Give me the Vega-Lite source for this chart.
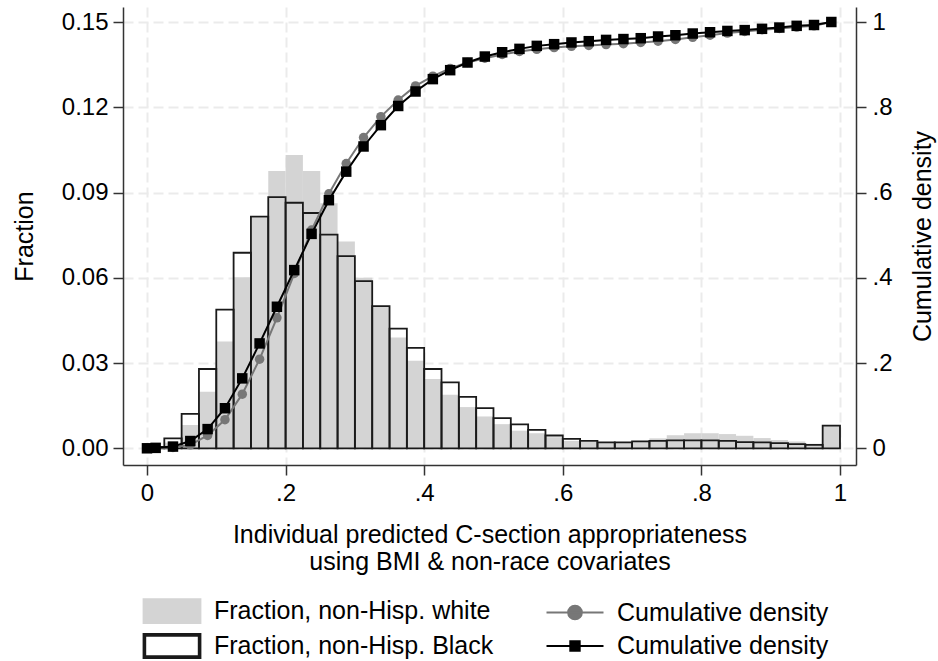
{
  "$schema": "https://vega.github.io/schema/vega-lite/v6.json",
  "description": "Fraction histograms and cumulative densities of predicted C-section appropriateness",
  "width": 733,
  "height": 458,
  "autosize": {"type": "none"},
  "padding": {"left": 123, "top": 7, "right": 82, "bottom": 196},
  "background": "white",
  "config": {
    "view": {"stroke": null},
    "font": "Liberation Sans",
    "axis": {
      "labelFont": "Liberation Sans",
      "titleFont": "Liberation Sans",
      "labelFontSize": 24,
      "titleFontSize": 25,
      "titleFontWeight": "normal",
      "labelColor": "black",
      "titleColor": "black",
      "domainColor": "#333333",
      "domainWidth": 1.5,
      "tickColor": "#333333",
      "tickWidth": 1.5,
      "tickSize": 10,
      "gridColor": "#ebebeb",
      "gridDash": [10, 5],
      "gridWidth": 2
    }
  },
  "datasets": {
    "white_bars": [
      {"lo": 0, "hi": 0.025, "f": 0.0005},
      {"lo": 0.025, "hi": 0.05, "f": 0.002},
      {"lo": 0.05, "hi": 0.075, "f": 0.0082},
      {"lo": 0.075, "hi": 0.1, "f": 0.0199},
      {"lo": 0.1, "hi": 0.125, "f": 0.0376},
      {"lo": 0.125, "hi": 0.15, "f": 0.0602},
      {"lo": 0.15, "hi": 0.175, "f": 0.0812},
      {"lo": 0.175, "hi": 0.2, "f": 0.0976},
      {"lo": 0.2, "hi": 0.225, "f": 0.1032},
      {"lo": 0.225, "hi": 0.25, "f": 0.0976},
      {"lo": 0.25, "hi": 0.275, "f": 0.0862},
      {"lo": 0.275, "hi": 0.3, "f": 0.0728},
      {"lo": 0.3, "hi": 0.325, "f": 0.06},
      {"lo": 0.325, "hi": 0.35, "f": 0.05},
      {"lo": 0.35, "hi": 0.375, "f": 0.039},
      {"lo": 0.375, "hi": 0.4, "f": 0.0308},
      {"lo": 0.4, "hi": 0.425, "f": 0.0244},
      {"lo": 0.425, "hi": 0.45, "f": 0.0188},
      {"lo": 0.45, "hi": 0.475, "f": 0.0145},
      {"lo": 0.475, "hi": 0.5, "f": 0.0112},
      {"lo": 0.5, "hi": 0.525, "f": 0.0085},
      {"lo": 0.525, "hi": 0.55, "f": 0.0062},
      {"lo": 0.55, "hi": 0.575, "f": 0.0053},
      {"lo": 0.575, "hi": 0.6, "f": 0.0039},
      {"lo": 0.6, "hi": 0.625, "f": 0.0026},
      {"lo": 0.625, "hi": 0.65, "f": 0.0022},
      {"lo": 0.65, "hi": 0.675, "f": 0.002},
      {"lo": 0.675, "hi": 0.7, "f": 0.0021},
      {"lo": 0.7, "hi": 0.725, "f": 0.0025},
      {"lo": 0.725, "hi": 0.75, "f": 0.0035},
      {"lo": 0.75, "hi": 0.775, "f": 0.0046},
      {"lo": 0.775, "hi": 0.8, "f": 0.0053},
      {"lo": 0.8, "hi": 0.825, "f": 0.0053},
      {"lo": 0.825, "hi": 0.85, "f": 0.005},
      {"lo": 0.85, "hi": 0.875, "f": 0.0044},
      {"lo": 0.875, "hi": 0.9, "f": 0.0036},
      {"lo": 0.9, "hi": 0.925, "f": 0.0029},
      {"lo": 0.925, "hi": 0.95, "f": 0.0024},
      {"lo": 0.95, "hi": 0.975, "f": 0.0016},
      {"lo": 0.975, "hi": 1, "f": 0.008}
    ],
    "black_bars": [
      {"lo": 0, "hi": 0.025, "f": 0.0005},
      {"lo": 0.025, "hi": 0.05, "f": 0.0035},
      {"lo": 0.05, "hi": 0.075, "f": 0.0121},
      {"lo": 0.075, "hi": 0.1, "f": 0.0279},
      {"lo": 0.1, "hi": 0.125, "f": 0.0488},
      {"lo": 0.125, "hi": 0.15, "f": 0.0688},
      {"lo": 0.15, "hi": 0.175, "f": 0.0815},
      {"lo": 0.175, "hi": 0.2, "f": 0.0884},
      {"lo": 0.2, "hi": 0.225, "f": 0.0864},
      {"lo": 0.225, "hi": 0.25, "f": 0.0828},
      {"lo": 0.25, "hi": 0.275, "f": 0.0752},
      {"lo": 0.275, "hi": 0.3, "f": 0.0676},
      {"lo": 0.3, "hi": 0.325, "f": 0.0588},
      {"lo": 0.325, "hi": 0.35, "f": 0.05},
      {"lo": 0.35, "hi": 0.375, "f": 0.0421},
      {"lo": 0.375, "hi": 0.4, "f": 0.0353},
      {"lo": 0.4, "hi": 0.425, "f": 0.0279},
      {"lo": 0.425, "hi": 0.45, "f": 0.0232},
      {"lo": 0.45, "hi": 0.475, "f": 0.0181},
      {"lo": 0.475, "hi": 0.5, "f": 0.0141},
      {"lo": 0.5, "hi": 0.525, "f": 0.0106},
      {"lo": 0.525, "hi": 0.55, "f": 0.0084},
      {"lo": 0.55, "hi": 0.575, "f": 0.0065},
      {"lo": 0.575, "hi": 0.6, "f": 0.0045},
      {"lo": 0.6, "hi": 0.625, "f": 0.0033},
      {"lo": 0.625, "hi": 0.65, "f": 0.0026},
      {"lo": 0.65, "hi": 0.675, "f": 0.0021},
      {"lo": 0.675, "hi": 0.7, "f": 0.0021},
      {"lo": 0.7, "hi": 0.725, "f": 0.0024},
      {"lo": 0.725, "hi": 0.75, "f": 0.0026},
      {"lo": 0.75, "hi": 0.775, "f": 0.0028},
      {"lo": 0.775, "hi": 0.8, "f": 0.0028},
      {"lo": 0.8, "hi": 0.825, "f": 0.0028},
      {"lo": 0.825, "hi": 0.85, "f": 0.0026},
      {"lo": 0.85, "hi": 0.875, "f": 0.0022},
      {"lo": 0.875, "hi": 0.9, "f": 0.0021},
      {"lo": 0.9, "hi": 0.925, "f": 0.0018},
      {"lo": 0.925, "hi": 0.95, "f": 0.0015},
      {"lo": 0.95, "hi": 0.975, "f": 0.0012},
      {"lo": 0.975, "hi": 1, "f": 0.008}
    ],
    "white_cum": [
      {"x": 0, "c": 0},
      {"x": 0.0125, "c": 0.0005},
      {"x": 0.0375, "c": 0.002},
      {"x": 0.0625, "c": 0.008},
      {"x": 0.0875, "c": 0.03},
      {"x": 0.1125, "c": 0.067},
      {"x": 0.1375, "c": 0.127},
      {"x": 0.1625, "c": 0.209},
      {"x": 0.1875, "c": 0.306},
      {"x": 0.2125, "c": 0.41},
      {"x": 0.2375, "c": 0.512},
      {"x": 0.2625, "c": 0.597},
      {"x": 0.2875, "c": 0.668},
      {"x": 0.3125, "c": 0.729},
      {"x": 0.3375, "c": 0.778},
      {"x": 0.3625, "c": 0.817},
      {"x": 0.3875, "c": 0.85},
      {"x": 0.4125, "c": 0.873},
      {"x": 0.4375, "c": 0.891},
      {"x": 0.4625, "c": 0.905},
      {"x": 0.4875, "c": 0.915},
      {"x": 0.5125, "c": 0.924},
      {"x": 0.5375, "c": 0.931},
      {"x": 0.5625, "c": 0.936},
      {"x": 0.5875, "c": 0.94},
      {"x": 0.6125, "c": 0.943},
      {"x": 0.6375, "c": 0.945},
      {"x": 0.6625, "c": 0.947},
      {"x": 0.6875, "c": 0.949},
      {"x": 0.7125, "c": 0.952},
      {"x": 0.7375, "c": 0.955},
      {"x": 0.7625, "c": 0.959},
      {"x": 0.7875, "c": 0.964},
      {"x": 0.8125, "c": 0.969},
      {"x": 0.8375, "c": 0.974},
      {"x": 0.8625, "c": 0.978},
      {"x": 0.8875, "c": 0.982},
      {"x": 0.9125, "c": 0.985},
      {"x": 0.9375, "c": 0.988},
      {"x": 0.9625, "c": 0.991},
      {"x": 0.9875, "c": 1.0}
    ],
    "black_cum": [
      {"x": 0, "c": 0},
      {"x": 0.0125, "c": 0.001},
      {"x": 0.0375, "c": 0.004},
      {"x": 0.0625, "c": 0.017},
      {"x": 0.0875, "c": 0.045},
      {"x": 0.1125, "c": 0.094},
      {"x": 0.1375, "c": 0.164},
      {"x": 0.1625, "c": 0.246},
      {"x": 0.1875, "c": 0.332},
      {"x": 0.2125, "c": 0.418},
      {"x": 0.2375, "c": 0.503},
      {"x": 0.2625, "c": 0.582},
      {"x": 0.2875, "c": 0.649},
      {"x": 0.3125, "c": 0.708},
      {"x": 0.3375, "c": 0.758},
      {"x": 0.3625, "c": 0.803},
      {"x": 0.3875, "c": 0.837},
      {"x": 0.4125, "c": 0.866},
      {"x": 0.4375, "c": 0.887},
      {"x": 0.4625, "c": 0.905},
      {"x": 0.4875, "c": 0.919},
      {"x": 0.5125, "c": 0.929},
      {"x": 0.5375, "c": 0.937},
      {"x": 0.5625, "c": 0.944},
      {"x": 0.5875, "c": 0.948},
      {"x": 0.6125, "c": 0.952},
      {"x": 0.6375, "c": 0.955},
      {"x": 0.6625, "c": 0.958},
      {"x": 0.6875, "c": 0.96},
      {"x": 0.7125, "c": 0.962},
      {"x": 0.7375, "c": 0.966},
      {"x": 0.7625, "c": 0.969},
      {"x": 0.7875, "c": 0.973},
      {"x": 0.8125, "c": 0.976},
      {"x": 0.8375, "c": 0.979},
      {"x": 0.8625, "c": 0.981},
      {"x": 0.8875, "c": 0.984},
      {"x": 0.9125, "c": 0.987},
      {"x": 0.9375, "c": 0.991},
      {"x": 0.9625, "c": 0.993},
      {"x": 0.9875, "c": 1.0}
    ]
  },
  "layer": [
    {
      "layer": [
        {
          "data": {"name": "white_bars"},
          "mark": {"type": "bar"},
          "encoding": {
            "x": {
              "field": "lo",
              "type": "quantitative",
              "scale": {"domain": [-0.0346, 1.0231], "nice": false, "zero": false},
              "axis": {
                "values": [0, 0.2, 0.4, 0.6, 0.8, 1],
                "labelExpr": "datum.value == 0 ? '0' : datum.value == 1 ? '1' : substring(format(datum.value, '.1f'), 1)",
                "labelFlush": false,
                "labelPadding": 6,
                "title": ["Individual predicted C-section appropriateness", "using BMI & non-race covariates"],
                "titleLineHeight": 27,
                "titlePadding": 17,
                "grid": true
              }
            },
            "x2": {"field": "hi"},
            "y": {
              "field": "f",
              "type": "quantitative",
              "scale": {"domain": [-0.00588, 0.15528], "nice": false, "zero": false},
              "axis": {
                "orient": "left",
                "values": [0, 0.03, 0.06, 0.09, 0.12, 0.15],
                "format": ".2f",
                "labelPadding": 5,
                "title": "Fraction",
                "titlePadding": 24,
                "grid": true
              }
            },
            "y2": {"datum": 0},
            "color": {
              "datum": "Fraction, non-Hisp. white",
              "type": "nominal",
              "scale": {
                "domain": ["Fraction, non-Hisp. white", "Cumulative density (white)", "Fraction, non-Hisp. Black", "Cumulative density (Black)"],
                "range": ["#d4d4d4", "#777777", "#1a1a1a", "#000000"]
              },
              "legend": {
                "orient": "none",
                "legendX": 20,
                "legendY": 591,
                "direction": "horizontal",
                "columns": 2,
                "columnPadding": 48,
                "rowPadding": 3,
                "padding": 0,
                "title": null,
                "symbolSize": 576,
                "symbolOffset": 16,
                "labelOffset": 29,
                "labelFont": "Liberation Sans",
                "labelFontSize": 25,
                "labelColor": "black",
                "labelLimit": 400,
                "labelExpr": "split(datum.label, ' (')[0]",
                "encode": {
                  "symbols": {
                    "update": {
                      "shape": {"signal": "datum.value == 'Cumulative density (white)' ? 'M-2.375,0H2.375M-0.58,0A0.58,0.58,0,1,0,0.58,0A0.58,0.58,0,1,0,-0.58,0Z' : datum.value == 'Cumulative density (Black)' ? 'M-2.375,0H2.375M-0.4,-0.4H0.4V0.4H-0.4Z' : datum.value == 'Fraction, non-Hisp. Black' ? 'M-2.375,-1H2.375V1H-2.375ZM-2.225,-0.85V0.85H2.225V-0.85Z' : 'M-2.375,-1H2.375V1H-2.375Z'"},
                      "strokeWidth": {"value": 1.8},
                      "opacity": {"value": 1},
                      "fillOpacity": {"value": 1},
                      "strokeOpacity": {"value": 1}
                    }
                  }
                }
              }
            }
          }
        },
        {
          "data": {"name": "black_bars"},
          "mark": {"type": "bar", "filled": false, "color": "#1a1a1a", "strokeWidth": 1.8},
          "encoding": {
            "x": {"field": "lo", "type": "quantitative"},
            "x2": {"field": "hi"},
            "y": {"field": "f", "type": "quantitative"},
            "y2": {"datum": 0}
          }
        }
      ]
    },
    {
      "layer": [
        {
          "data": {"name": "white_cum"},
          "mark": {"type": "line", "strokeWidth": 2},
          "encoding": {
            "x": {"field": "x", "type": "quantitative"},
            "y": {
              "field": "c",
              "type": "quantitative",
              "scale": {"domain": [-0.0392, 1.0352], "nice": false, "zero": false},
              "axis": {
                "orient": "right",
                "values": [0, 0.2, 0.4, 0.6, 0.8, 1],
                "labelExpr": "datum.value == 0 ? '0' : datum.value == 1 ? '1' : substring(format(datum.value, '.1f'), 1)",
                "labelPadding": 6,
                "title": "Cumulative density",
                "titleAngle": 270,
                "titleBaseline": "top",
                "titlePadding": 18,
                "grid": false
              }
            },
            "color": {"datum": "Cumulative density (white)", "type": "nominal"}
          }
        },
        {
          "data": {"name": "white_cum"},
          "mark": {"type": "point", "shape": "circle", "filled": true, "size": 90, "opacity": 1},
          "encoding": {
            "x": {"field": "x", "type": "quantitative"},
            "y": {"field": "c", "type": "quantitative"},
            "color": {"datum": "Cumulative density (white)", "type": "nominal"}
          }
        },
        {
          "data": {"name": "black_cum"},
          "mark": {"type": "line", "strokeWidth": 2},
          "encoding": {
            "x": {"field": "x", "type": "quantitative"},
            "y": {"field": "c", "type": "quantitative"},
            "color": {"datum": "Cumulative density (Black)", "type": "nominal"}
          }
        },
        {
          "data": {"name": "black_cum"},
          "mark": {"type": "point", "shape": "square", "filled": true, "size": 110, "opacity": 1},
          "encoding": {
            "x": {"field": "x", "type": "quantitative"},
            "y": {"field": "c", "type": "quantitative"},
            "color": {"datum": "Cumulative density (Black)", "type": "nominal"}
          }
        }
      ]
    }
  ],
  "resolve": {"scale": {"y": "independent"}}
}
